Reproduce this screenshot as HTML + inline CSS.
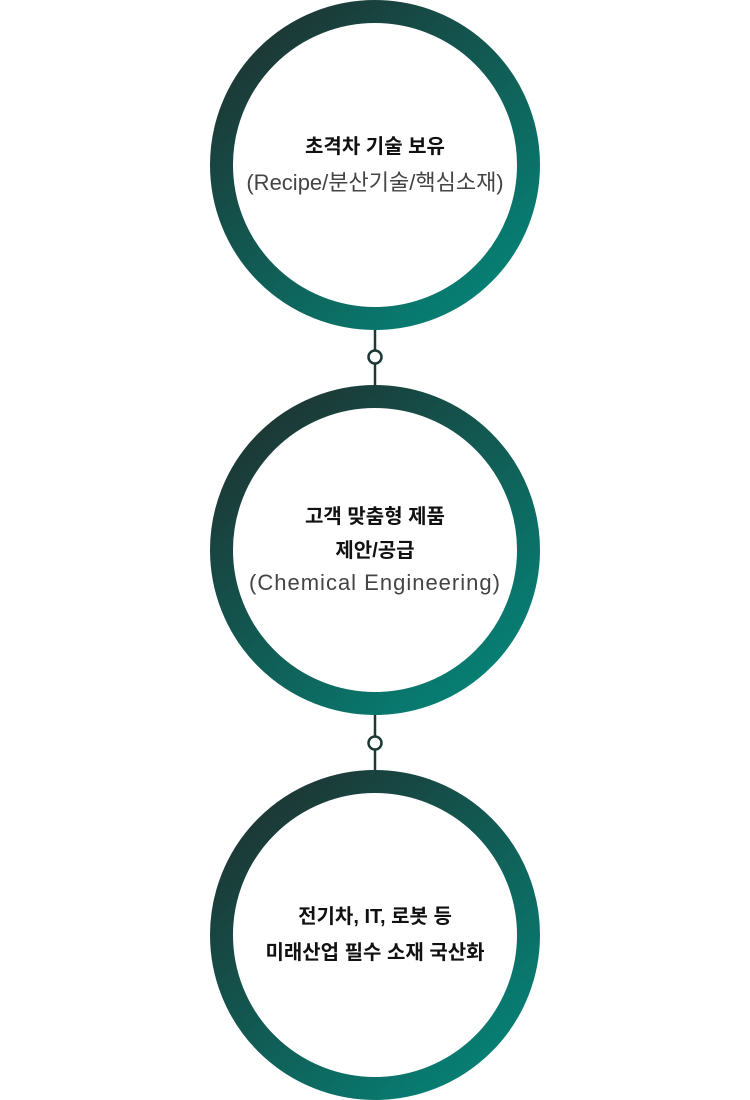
<!DOCTYPE html>
<html><head><meta charset="utf-8"><style>
html,body{margin:0;padding:0;background:#fff;}
svg{display:block;}
text{font-family:"Liberation Sans","Noto Sans CJK KR",sans-serif;text-anchor:middle;}
.b{font-weight:bold;font-size:20px;fill:#111;}
.r{font-size:22px;fill:#444;}
</style></head><body>
<svg width="750" height="1100" viewBox="0 0 750 1100">
<defs>
<linearGradient id="g" x1="0.15" y1="0.1" x2="0.85" y2="0.9">
<stop offset="0" stop-color="#1c3936"/>
<stop offset="1" stop-color="#077e73"/>
</linearGradient>
</defs>
<line x1="375" y1="320" x2="375" y2="395" stroke="#1c3936" stroke-width="2.5"/>
<line x1="375" y1="705" x2="375" y2="780" stroke="#1c3936" stroke-width="2.5"/>
<circle cx="375" cy="357" r="6.5" fill="#fff" stroke="#1c3936" stroke-width="2.5"/>
<circle cx="375" cy="743" r="6.5" fill="#fff" stroke="#1c3936" stroke-width="2.5"/>
<circle cx="375" cy="165" r="153.5" fill="#fff" stroke="url(#g)" stroke-width="23"/>
<circle cx="375" cy="550" r="153.5" fill="#fff" stroke="url(#g)" stroke-width="23"/>
<circle cx="375" cy="935" r="153.5" fill="#fff" stroke="url(#g)" stroke-width="23"/>
<text class="b" x="375" y="153">초격차 기술 보유</text>
<text class="r" x="375" y="190">(Recipe/분산기술/핵심소재)</text>
<text class="b" x="375" y="523">고객 맞춤형 제품</text>
<text class="b" x="375" y="557">제안/공급</text>
<text class="r" x="375" y="590" letter-spacing="1">(Chemical Engineering)</text>
<text class="b" x="375" y="923">전기차, IT, 로봇 등</text>
<text class="b" x="375" y="959">미래산업 필수 소재 국산화</text>
</svg>
</body></html>
